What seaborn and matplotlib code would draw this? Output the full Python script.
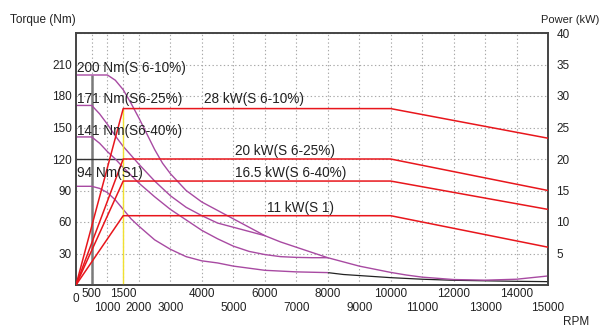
import matplotlib
matplotlib.use('Agg')

import matplotlib.pyplot as plt
import matplotlib.transforms as mtrans
import seaborn as sns

# === Torque curves (Nm) vs speed (RPM) ===
rpm_10 = [0, 1000, 1250, 1500, 1750, 2000, 2250, 2500, 2750, 3000, 3500, 4000, 4500, 5000, 5500,
          6000, 6500, 7000, 7500, 8000, 8500, 9000, 9500, 10000, 10500, 11000, 12000, 13000,
          14000, 15000]
torque_10 = [200, 200, 195, 186, 173, 159, 144, 129, 116, 106, 90, 79, 71, 63, 55,
             47, 41, 36, 31, 26, 22, 18, 15, 12, 9.5, 7.5, 5.2, 4.6,
             5.5, 8.6]

rpm_25 = [0, 500, 750, 1000, 1250, 1500, 2000, 2500, 3000, 3500, 4000, 4500, 5000, 5500, 6000]
torque_25 = [171, 171, 163, 153, 142, 132, 115, 99, 85, 74, 66, 59, 55, 51, 47]

rpm_40 = [0, 500, 750, 1000, 1250, 1500, 2000, 2500, 3000, 3500, 4000, 4500, 5000, 5500, 6000,
          6500, 7000, 7500, 8000]
torque_40 = [141, 141, 135, 127, 120, 112, 97, 84, 72, 62, 52, 44, 37, 32, 29,
             27, 26.3, 26, 26]

rpm_s1 = [0, 500, 750, 1000, 1250, 1500, 1750, 2000, 2500, 3000, 3500, 4000, 4500, 5000, 6000,
          7000, 8000]
torque_s1 = [94, 94, 92, 88, 81, 72, 63, 56, 43, 34, 27, 23, 21, 18, 14, 12.5, 11.8]

rpm_tail = [8000, 8500, 9000, 9500, 10000, 11000, 12000, 13000, 14000, 15000]
torque_tail = [11.8, 10, 9, 8, 7, 5.5, 4.5, 4, 3.5, 3.2]

# === Power lines (kW) ===
power_rpm = [0, 1500, 10000, 15000]
power_10 = [0, 28, 28, 23.3]
power_25 = [0, 20, 20, 15]
power_40 = [0, 16.5, 16.5, 12]
power_s1 = [0, 11, 11, 6]

# reference lines
base_rpm = 500
base_torque = 200
corner_rpm = 1500
corner_power = 28
ref_torque = 120

torque_labels = ["200 Nm(S 6-10%)", "171 Nm(S6-25%)", "141 Nm(S6-40%)", "94 Nm(S1)"]
torque_label_y = [207, 177, 146.5, 106.5]
power_labels = ["28 kW(S 6-10%)", "20 kW(S 6-25%)", "16.5 kW(S 6-40%)", "11 kW(S 1)"]
power_label_x = [4070, 5050, 5050, 6060]
power_label_y = [29.5, 21.3, 17.7, 12.2]

row1_ticks = [500, 1500, 4000, 6000, 8000, 10000, 12000, 14000]
row2_ticks = [1000, 2000, 3000, 5000, 7000, 9000, 11000, 13000, 15000]

PURPLE = "#a84aa2"
RED = "#e8161c"
GRID = "#a8a8a8"

sns.set_style("white")
plt.rcParams['font.family'] = ['Liberation Sans', 'DejaVu Sans']

fig = plt.figure(figsize=(6.03, 3.31), dpi=100)
ax = fig.add_axes([76 / 603, 1 - 285 / 331, 472 / 603, 252 / 331])
ax2 = ax.twinx()

# axes, ticks and grid
ax.set_xlim(0, 15000)
ax.set_ylim(0, 240)
ax2.set_ylim(0, 40)
ax.set_xticks(row1_ticks)
ax.set_xticks(row2_ticks, minor=True)
ax.set_xticklabels([str(t) for t in row1_ticks])
ax.set_xticklabels([str(t) for t in row2_ticks], minor=True)
ax.set_yticks(range(0, 241, 30))
ax.set_yticklabels([""] + [str(t) for t in range(30, 211, 30)] + [""])
ax2.set_yticks(range(0, 41, 5))
ax2.set_yticklabels([""] + [str(t) for t in range(5, 41, 5)])
ax.tick_params(axis='x', which='major', length=0, pad=2, labelsize=8.5, colors="#222")
ax.tick_params(axis='x', which='minor', length=0, pad=12.5, labelsize=8.5, colors="#222")
ax.tick_params(axis='y', length=0, pad=3, labelsize=8.5, colors="#222")
ax2.tick_params(axis='y', length=0, pad=6, labelsize=8.5, colors="#222")
ax.grid(True, which='both', axis='x', color=GRID, lw=0.8, ls=(0, (1.2, 2.2)))
ax.grid(True, which='major', axis='y', color=GRID, lw=0.8, ls=(0, (1.2, 2.2)))
ax2.grid(False)

for a in (ax, ax2):
    for s in a.spines.values():
        s.set_color("#444")
        s.set_linewidth(1.2)

# reference lines
ax.vlines(base_rpm, 0, base_torque, color="#7a7a7a", lw=1.8, zorder=3)
ax.hlines(ref_torque, 0, corner_rpm, color="#333", lw=1.0, zorder=3)
ax2.vlines(corner_rpm, 0, corner_power, color="#f0e030", lw=1.0, zorder=2)

# torque curves
for xs, ys in [(rpm_10, torque_10), (rpm_25, torque_25), (rpm_40, torque_40), (rpm_s1, torque_s1)]:
    sns.lineplot(x=xs, y=ys, ax=ax, color=PURPLE, lw=1.0, sort=False, estimator=None, zorder=4)
sns.lineplot(x=rpm_tail, y=torque_tail, ax=ax, color="#222", lw=0.9, sort=False, estimator=None, zorder=3)

# power lines
for ps in (power_10, power_25, power_40, power_s1):
    sns.lineplot(x=power_rpm, y=ps, ax=ax2, color=RED, lw=1.1, sort=False, estimator=None, zorder=4)

ax.set_xlabel("")
ax.set_ylabel("")
ax2.set_ylabel("")

# annotations
for lab, y in zip(torque_labels, torque_label_y):
    ax2.text(20, y / 6, lab, fontsize=9.8, va='center', ha='left', color="#222", zorder=6)
for lab, x, y in zip(power_labels, power_label_x, power_label_y):
    ax2.text(x, y, lab, fontsize=9.8, va='center', ha='left', color="#222", zorder=6)

trans0 = mtrans.blended_transform_factory(ax.transData, ax.transAxes)
ax.text(0, -0.03, "0", transform=trans0, fontsize=8.5, ha='center', va='top', color="#222")

fig.text(10 / 603, 1 - 20 / 331, "Torque (Nm)", fontsize=8.5, ha='left', va='center', color="#222")
fig.text(599 / 603, 1 - 20 / 331, "Power (kW)", fontsize=8, ha='right', va='center', color="#222")
fig.text(563 / 603, 1 - 322 / 331, "RPM", fontsize=8.5, ha='left', va='center', color="#222")

fig.savefig("out.png", dpi=100)
